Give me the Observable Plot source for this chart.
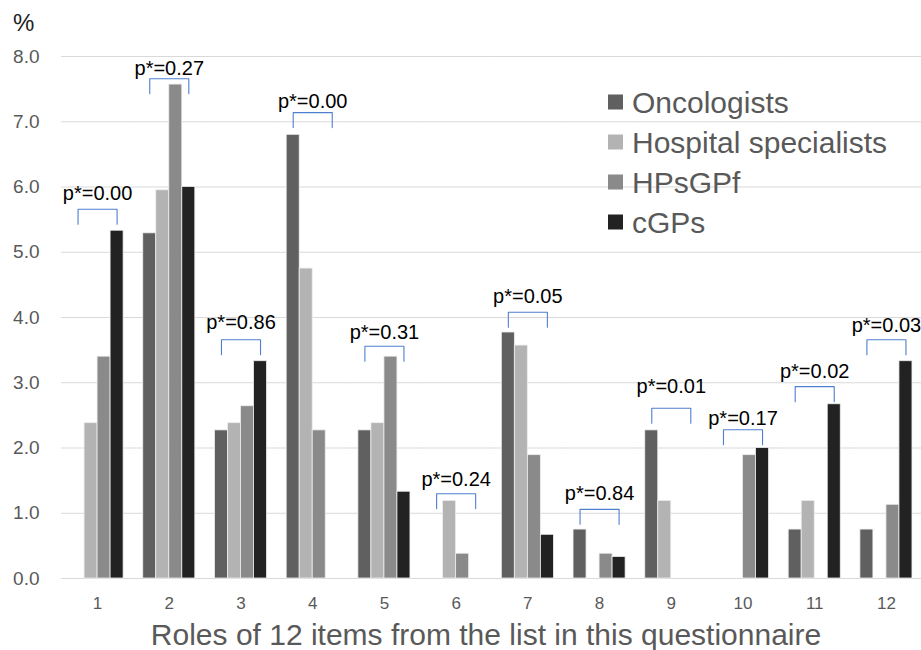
<!DOCTYPE html>
<html><head><meta charset="utf-8">
<script src="https://cdn.jsdelivr.net/npm/d3@7"></script>
<script src="https://cdn.jsdelivr.net/npm/@observablehq/plot@0.6"></script>
<style>
  html,body{margin:0;padding:0;background:#fff;}
  #chart{width:921px;height:650px;}
</style>
</head><body><div id="chart"></div>
<script>
const categories = [1, 2, 3, 4, 5, 6, 7, 8, 9, 10, 11, 12];
const series = ["Oncologists", "Hospital specialists", "HPsGPf", "cGPs"];
const colors = ["#606060", "#b3b3b3", "#8a8a8a", "#222222"];
const oncologists = [0, 5.29, 2.27, 6.80, 2.27, 0, 3.77, 0.75, 2.27, 0, 0.75, 0.75];
const hospitalSpecialists = [2.38, 5.95, 2.38, 4.75, 2.38, 1.19, 3.57, 0, 1.19, 0, 1.19, 0];
const hpsgpf = [3.40, 7.57, 2.64, 2.27, 3.40, 0.38, 1.89, 0.38, 0, 1.89, 0, 1.13];
const cgps = [5.33, 6.00, 3.33, 0, 1.33, 0, 0.67, 0.33, 0, 2.00, 2.67, 3.33];
const pLabels = ["p*=0.00", "p*=0.27", "p*=0.86", "p*=0.00", "p*=0.31", "p*=0.24", "p*=0.05", "p*=0.84", "p*=0.01", "p*=0.17", "p*=0.02", "p*=0.03"];
const bracketTop = [5.66, 7.66, 3.66, 7.14, 3.56, 1.30, 4.08, 1.06, 2.61, 2.28, 2.94, 3.66];
const labelY = [5.90, 7.82, 3.92, 7.31, 3.77, 1.52, 4.32, 1.30, 2.94, 2.45, 3.17, 3.88];
const bracketDrop = 0.23;
const yTicks = [0, 1, 2, 3, 4, 5, 6, 7, 8];
const xTitle = "Roles of 12 items from the list in this questionnaire";
const yUnit = "%";

const valuesBySeries = [oncologists, hospitalSpecialists, hpsgpf, cgps];
const rows = [];
categories.forEach((c, i) => series.forEach((s, j) => rows.push({cat: c, series: s, v: valuesBySeries[j][i]})));

const bracketRows = [];
categories.forEach((c, i) => {
  bracketRows.push({cat: c, series: series[0], y: bracketTop[i] - bracketDrop});
  bracketRows.push({cat: c, series: series[0], y: bracketTop[i]});
  bracketRows.push({cat: c, series: series[3], y: bracketTop[i]});
  bracketRows.push({cat: c, series: series[3], y: bracketTop[i] - bracketDrop});
});
const labelRows = categories.map((c, i) => ({cat: c, y: labelY[i], label: pLabels[i]}));

const font = "'Liberation Sans', Arial, sans-serif";

const plot = Plot.plot({
  width: 921,
  height: 650,
  marginLeft: 62,
  marginRight: 0,
  marginTop: 56,
  marginBottom: 72,
  style: {fontFamily: font, background: "#fff", overflow: "visible"},
  fx: {domain: categories, paddingInner: 0.274, paddingOuter: 0.126, round: false, label: null, axis: null},
  x: {domain: series, padding: 0, round: false, axis: null},
  y: {domain: [0, 8], axis: null},
  color: {domain: series, range: colors},
  marks: [
    Plot.ruleY(yTicks, {y: d => d, stroke: "#d9d9d9", strokeWidth: 1, insetLeft: -10, insetRight: -10}),
    Plot.barY(rows.filter(d => d.v > 0), {fx: "cat", x: "series", y: "v", fill: "series", stroke: "#eeeeee", strokeWidth: 0.8}),
    Plot.line(bracketRows, {fx: "cat", x: "series", y: "y", z: "cat", stroke: "#4f7fd0", strokeWidth: 1.1}),
    Plot.text(labelRows, {fx: "cat", y: "y", text: "label", frameAnchor: "middle", fontSize: 20, fill: "#000"}),
    Plot.axisY({ticks: yTicks, tickFormat: d => d.toFixed(1), tickSize: 0, tickPadding: 32, fontSize: 19, color: "#595959", label: null}),
    Plot.axisFx({anchor: "bottom", tickSize: 0, tickPadding: 18, fontSize: 17, color: "#595959", label: null})
  ]
});

document.getElementById("chart").appendChild(plot);

const svg = d3.select(plot);
const colorScale = plot.scale("color");
svg.append("text")
  .attr("x", 13).attr("y", 31)
  .attr("text-anchor", "start")
  .attr("font-family", font).attr("font-size", 24).attr("fill", "#222")
  .text(yUnit);
svg.append("text")
  .attr("x", 486).attr("y", 645)
  .attr("text-anchor", "middle")
  .attr("font-family", font).attr("font-size", 30).attr("fill", "#595959")
  .text(xTitle);
const legend = svg.append("g");
series.forEach((s, i) => {
  const cy = 102 + i * 40;
  legend.append("rect")
    .attr("x", 608).attr("y", cy - 7.5).attr("width", 15).attr("height", 15)
    .attr("fill", colorScale.apply(s));
  legend.append("text")
    .attr("x", 632).attr("y", cy).attr("dy", "0.35em")
    .attr("text-anchor", "start")
    .attr("font-family", font).attr("font-size", 30).attr("fill", "#595959")
    .text(s);
});
</script>
</body></html>
